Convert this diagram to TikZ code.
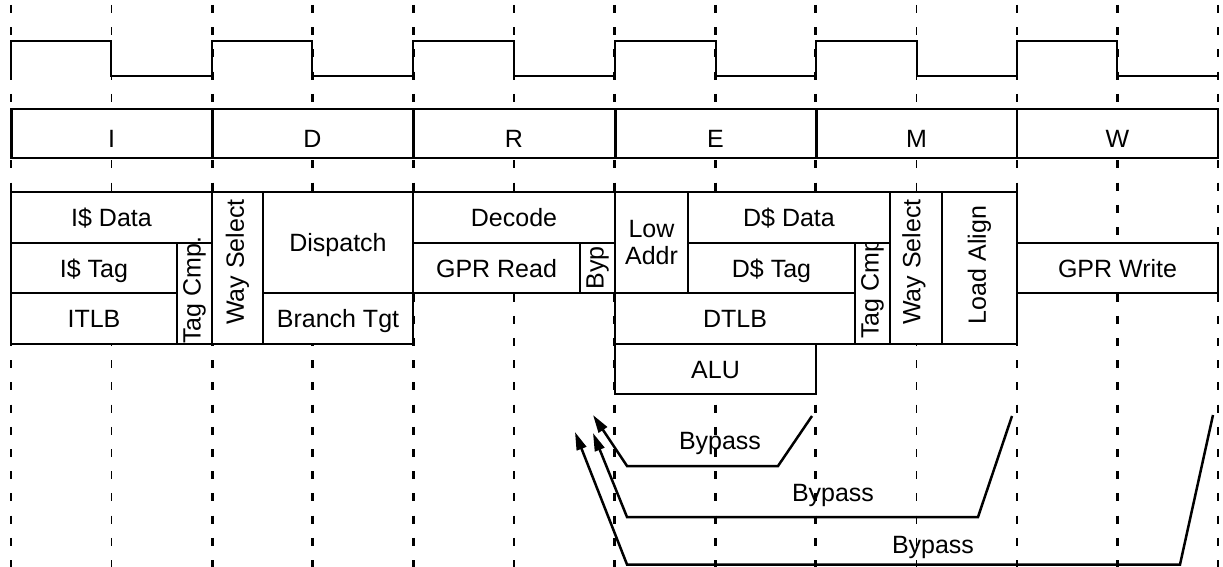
\documentclass[tikz,border=0pt]{standalone}
\usepackage{fontspec}
\setmainfont{Liberation Sans}
\usetikzlibrary{arrows.meta}
\newcommand{\bigfont}{\fontsize{25}{27.5}\selectfont}
\tikzset{
  gridthick/.style={line width=2.8pt, dash pattern=on 8pt off 14.2pt},
  gridthin/.style={line width=1.6pt, dash pattern=on 8pt off 14.2pt},
  clk/.style={line width=2.9pt, line join=miter},
  blkbase/.style={draw, fill=white, line width=2.6pt, inner sep=0pt, font=\bigfont},
  blk/.style={blkbase, text height=18pt, text depth=0pt},
  stg/.style={draw, fill=white, line width=2pt, inner sep=0pt, outer sep=0pt, font=\bigfont,
              minimum height=49pt, text height=27pt, text depth=0pt},
  stgedge/.style={line width=3pt},
  vtxt/.style={rotate=90, font=\bigfont, inner sep=0pt},
  lbl/.style={font=\bigfont, inner sep=0pt},
  bypline/.style={line width=2.5pt, line join=miter, -{Triangle[length=18pt,width=10pt]}}
}
\begin{document}
\begin{tikzpicture}[x=1pt,y=-1pt]
\useasboundingbox (0,0) rectangle (1223,567);
% dashed time grid
\foreach \k in {0,2,3,4,6,7,8,11}{
  \draw[gridthick] ({11+100.6*\k},5) -- ({11+100.6*\k},567);
}
\foreach \k in {1,5,9,10,12}{
  \draw[gridthin] ({11+100.6*\k},5) -- ({11+100.6*\k},567);
}
% clock
\draw[clk] (11,76) -- (11,41) -- (111,41) -- (111,76) -- (212,76) -- (212,41)
  -- (312,41) -- (312,76) -- (413,76) -- (413,41) -- (514,41) -- (514,76)
  -- (615,76) -- (615,41) -- (716,41) -- (716,76) -- (816,76) -- (816,41)
  -- (917,41) -- (917,76) -- (1017,76) -- (1017,41) -- (1117,41) -- (1117,76)
  -- (1218,76);
% pipeline stages
\node[stg, minimum width=201pt] (sI) at (111.5,133.5) {I};
\node[stg, minimum width=201pt] (sD) at (312.5,133.5) {D};
\node[stg, minimum width=202pt] (sR) at (514,133.5) {R};
\node[stg, minimum width=201pt] (sE) at (715.5,133.5) {E};
\node[stg, minimum width=201pt] (sM) at (916.5,133.5) {M};
\node[stg, minimum width=201pt] (sW) at (1117.5,133.5) {W};
\foreach \n in {sI,sD,sR,sE,sM}{
  \draw[stgedge] (\n.north west) -- (\n.south west);
}
% I stage
\node[blk, minimum width=201pt, minimum height=51pt] (isd) at (111.5,217.5) {I\$ Data};
\node[blk, minimum width=166pt, minimum height=50pt] (ist) at (94,268) {I\$ Tag};
\node[blk, minimum width=166pt, minimum height=51pt] (itlb) at (94,318.5) {ITLB};
\node[blk, minimum width=35pt, minimum height=101pt] (tc1) at (194.5,293.5) {};
\node[blk, minimum width=51pt, minimum height=152pt] (ws1) at (237.5,268) {};
% D stage
\node[blk, minimum width=150pt, minimum height=101pt] (disp) at (338,242.5) {Dispatch};
\node[blk, minimum width=150pt, minimum height=51pt] (btgt) at (338,318.5) {Branch Tgt};
% R stage
\node[blk, minimum width=202pt, minimum height=51pt] (dec) at (514,217.5) {Decode};
\node[blk, minimum width=167pt, minimum height=50pt] (gprr) at (496.5,268) {GPR Read};
\node[blk, minimum width=35pt, minimum height=50pt] (byp) at (597.5,268) {};
% E stage
\node[blkbase, minimum width=73pt, minimum height=101pt, align=center] (low) at (651.5,242.5) {Low\\Addr};
\node[blk, minimum width=202pt, minimum height=51pt] (dsd) at (789,217.5) {D\$ Data};
\node[blk, minimum width=167pt, minimum height=50pt] (dst) at (771.5,268) {D\$ Tag};
\node[blk, minimum width=240pt, minimum height=51pt] (dtlb) at (735,318.5) {DTLB};
\node[blk, minimum width=35pt, minimum height=101pt] (tc2) at (872.5,293.5) {};
\node[blk, minimum width=201pt, minimum height=50pt] (alu) at (715.5,369) {ALU};
% M stage
\node[blk, minimum width=52pt, minimum height=152pt] (ws2) at (916,268) {};
\node[blk, minimum width=75pt, minimum height=152pt] (la) at (979.5,268) {};
% W stage
\node[blk, minimum width=201pt, minimum height=50pt] (gprw) at (1117.5,268) {GPR Write};
% rotated labels
\node[vtxt, anchor=west] (tc1t) at (194.5,344) {Tag Cmp.};
\node[vtxt] (ws1t) at (237.5,262) {Way Select};
\node[vtxt] (bypt) at (597.5,268) {Byp};
\begin{scope}
  \clip (855,243) rectangle (890,344);
  \node[vtxt, anchor=west] (tc2t) at (872.5,339) {Tag Cmp};
\end{scope}
\node[vtxt] (ws2t) at (914,262) {Way Select};
\node[vtxt] (lat) at (979.5,265) {Load Align};
% bypass paths
\coordinate (b1s) at (812,416);
\coordinate (b1e) at (593,415);
\coordinate (b2s) at (1012,416);
\coordinate (b2e) at (593,433);
\coordinate (b3s) at (1213,415);
\coordinate (b3e) at (575,432);
\draw[bypline] (b1s) -- (778,466) -- (627,466) -- (b1e);
\draw[bypline] (b2s) -- (978,517) -- (627,517) -- (b2e);
\draw[bypline] (b3s) -- (1180,564.5) -- (627,564.5) -- (b3e);
\node[lbl] (bl1) at (720,443) {Bypass};
\node[lbl] (bl2) at (833,495) {Bypass};
\node[lbl] (bl3) at (933,547) {Bypass};
\end{tikzpicture}
\end{document}
